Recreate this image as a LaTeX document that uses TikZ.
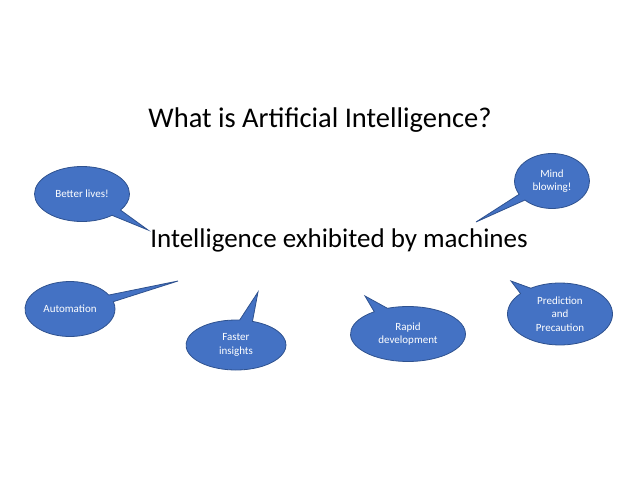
\documentclass[tikz,border=0pt]{standalone}
\usepackage{fontspec}
\setmainfont{Carlito}
\usetikzlibrary{shapes.callouts}

\definecolor{bubblefill}{HTML}{4472C4}
\definecolor{bubbleline}{HTML}{2F528F}

\tikzset{
    bubble/.style={ellipse callout, fill=bubblefill, draw=bubbleline,
        line width=0.8pt, text=white, font=\fontsize{11}{13.5}\selectfont,
        align=center, inner sep=0pt}
}

\begin{document}
\begin{tikzpicture}[x=1pt,y=-1pt]
    \useasboundingbox (0,0) rectangle (638,493);
    \node (title) at (320,120) {\fontsize{28.5}{33}\selectfont What is Artificial Intelligence?};
    \node (main) at (339,240) {\fontsize{27}{32}\selectfont Intelligence exhibited by machines};

    % speech bubbles
    \node (lives) [bubble, minimum width=95, minimum height=55,
        callout absolute pointer={(148,230)}] at (82,194) {Better lives!};
    \node (auto) [bubble, minimum width=90, minimum height=55,
        callout absolute pointer={(178,281)}] at (70,309) {Automation};
    \node (faster) [bubble, minimum width=100, minimum height=50,
        callout absolute pointer={(258,292)}] at (236,345) {Faster\\insights};
    \node (rapid) [bubble, minimum width=115, minimum height=55,
        callout absolute pointer={(365,296)}] at (408,334) {Rapid\\development};
    \node (pred) [bubble, minimum width=105, minimum height=62,
        callout absolute pointer={(511,281)}] at (560,314) {Prediction\\and\\Precaution};
    \node (mind) [bubble, minimum width=75, minimum height=55,
        callout absolute pointer={(476,222)}] at (552,181) {Mind\\blowing!};
\end{tikzpicture}
\end{document}
